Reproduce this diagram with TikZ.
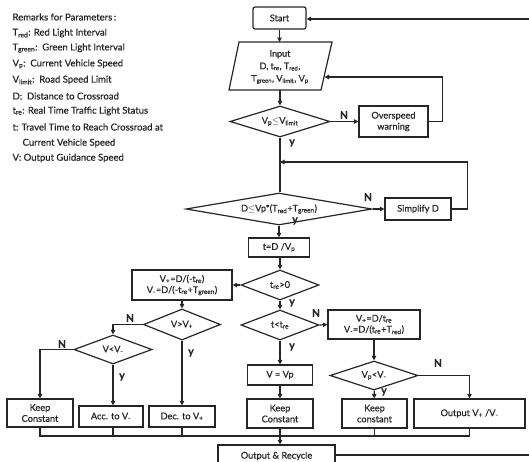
\documentclass[tikz,border=0pt]{standalone}
\usepackage{fontspec}
\setmainfont{Lato}[FakeBold=0.6]
\usetikzlibrary{shapes.geometric,arrows.meta}
\begin{document}
\begin{tikzpicture}[x=1pt,y=-1pt,
  line width=1.2pt,
  every node/.style={font=\fontsize{9.2}{11}\selectfont, text=black!85, inner sep=0pt},
  ln/.style={draw=black!85, line width=1.2pt},
  box/.style={ln, rectangle, align=center},
  dia/.style={ln, diamond, align=center},
  arr/.style={ln, -{Triangle[length=4.5pt,width=4.5pt]}},
  lab/.style={font=\fontsize{10.5}{10}\selectfont\bfseries},
  rem/.style={anchor=west, font=\fontsize{9.5}{10}\selectfont}]
\useasboundingbox (0,0) rectangle (529,461);
\clip (0,0) rectangle (529,461);
% remarks
\node[rem] (r0) at (12,17) {Remarks for Parameters\,:};
\node[rem] (r1) at (12,33) {T\textsubscript{red}: Red Light Interval};
\node[rem] (r2) at (12,48) {T\textsubscript{green}:\enspace Green Light Interval};
\node[rem] (r3) at (12,64) {V\textsubscript{p}:\enspace Current Vehicle Speed};
\node[rem] (r4) at (12,80) {V\textsubscript{limit}:\enspace Road Speed Limit};
\node[rem] (r5) at (12,96) {D:\enspace Distance to Crossroad};
\node[rem] (r6) at (12,111) {t\textsubscript{re}: Real Time Traffic Light Status};
\node[rem] (r7) at (12,127) {t: Travel Time to Reach Crossroad at};
\node[rem] (r8) at (22,143) {Current Vehicle Speed};
\node[rem] (r9) at (12,158) {V: Output Guidance Speed};
% top
\node[box, rounded corners=2pt, minimum width=53, minimum height=22] (start) at (279.5,18) {Start};
\coordinate (rin) at (529,19);
\coordinate (in1) at (239,42);
\coordinate (in2) at (332,42);
\coordinate (in3) at (321,90);
\coordinate (in4) at (229,90);
\draw[ln] (in1) -- (in2) -- (in3) -- (in4) -- cycle;
\node[align=center, font=\fontsize{9}{12.5}\selectfont] (input) at (280,67) {Input\\D, t\textsubscript{re}, T\textsubscript{red},\\T\textsubscript{green}, V\textsubscript{limit}, V\textsubscript{p}};
\coordinate (inT) at (279.5,42);
\coordinate (inB) at (280,90);
\coordinate (inR) at (324.5,77);
\node[dia, minimum width=100, minimum height=31, aspect=3.2] (d1) at (280,121.5) {V\textsubscript{p}$\leq$V\textsubscript{limit}};
\node[box, minimum width=69, minimum height=31] (over) at (393.5,121.5) {Overspeed\\warning};
\node[dia, minimum width=186, minimum height=32, aspect=5.8] (d2) at (279,209) {D$\leq$Vp*(T\textsubscript{red}+T\textsubscript{green})};
\node[box, minimum width=66, minimum height=22] (simp) at (418,209) {Simplify D};
\coordinate (ret) at (280,162);
\node[box, minimum width=61, minimum height=19] (tbox) at (279,247.5) {t=D /V\textsubscript{p}};
\node[dia, minimum width=78, minimum height=30, aspect=2.6] (d3) at (280,285) {t\textsubscript{re}>0};
\node[dia, minimum width=78, minimum height=30, aspect=2.6] (d4) at (280,325) {t<t\textsubscript{re}};
\node[box, minimum width=65, minimum height=20] (vbox) at (280,375) {V = Vp};
\node[box, minimum width=66, minimum height=29] (kc2) at (280,413.5) {Keep\\Constant};
% right branch
\node[box, minimum width=92, minimum height=29, align=center] (br) at (374,324.5) {V\textsubscript{+}=D/t\textsubscript{re}\\V\textsubscript{-}=D/(t\textsubscript{re}+T\textsubscript{red})};
\node[dia, minimum width=88, minimum height=29, aspect=3] (d5) at (374,375.5) {V\textsubscript{p}<V\textsubscript{-}};
\node[box, minimum width=65, minimum height=29] (kc3) at (374.5,413.5) {Keep\\constant};
\node[box, minimum width=111, minimum height=29] (oc) at (469.5,413.5) {Output V\textsubscript{+} /V\textsubscript{-}};
% left branch
\node[box, minimum width=100, minimum height=30, align=center] (bl) at (182,285) {V\textsubscript{+}=D/(-t\textsubscript{re})\\V\textsubscript{-}=D/(-t\textsubscript{re}+T\textsubscript{green})};
\node[dia, minimum width=77, minimum height=31, aspect=2.5] (d6) at (182,324.5) {V>V\textsubscript{+}};
\node[dia, minimum width=78, minimum height=29, aspect=2.7] (d7) at (113,349.5) {V<V\textsubscript{-}};
\node[box, minimum width=66, minimum height=28] (kc1) at (40,413) {Keep\\Constant};
\node[box, minimum width=64, minimum height=21] (acc) at (111,416.5) {Acc. to V\textsubscript{-}};
\node[box, minimum width=66, minimum height=21] (dec) at (182,416.5) {Dec. to V\textsubscript{+}};
% bottom
\node[box, minimum width=117, minimum height=22] (out) at (276.5,456) {Output \& Recycle};
\coordinate (rout) at (529,455);
\coordinate (bus) at (0,436);
% connectors
\draw[arr] (rin) -- (start.east |- rin);
\draw[arr] (start) -- (inT);
\draw[arr] (inB) -- (d1);
\draw[arr] (d1) -- (over);
\draw[arr] (over.east) -- ++(14,0) |- (inR);
\draw[ln] (d1.south) -- (d2.north -| d1.south);
\draw[arr] (d2.east) -- (simp.west);
\draw[arr] (simp.east) -- ++(16,0) |- (ret);
\draw[arr] (d2.south -| tbox.north) -- (tbox.north);
\draw[arr] (tbox.south -| d3.north) -- (d3.north);
\draw[arr] (d3.west) -- (bl.east);
\draw[arr] (d3) -- (d4);
\draw[arr] (d4.east) -- (br.west);
\draw[arr] (d4) -- (vbox);
\draw[arr] (vbox) -- (kc2);
\draw[arr] (br) -- (d5);
\draw[arr] (d5) -- (kc3);
\draw[arr] (d5.east) -| (oc.north);
\draw[arr] (bl) -- (d6);
\draw[arr] (d6.west) -| (d7.north);
\draw[arr] (d6.south) -- (dec.north -| d6.south);
\draw[arr] (d7.west) -| (kc1.north);
\draw[arr] (d7.south) -- (acc.north -| d7.south);
\draw[ln] (kc1.south) -- (kc1.south |- bus) -| (oc.south);
\draw[ln] (acc.south -| d7.south) -- (bus -| d7.south);
\draw[ln] (dec.south -| d6.south) -- (bus -| d6.south);
\draw[ln] (kc3.south) -- (bus -| kc3.south);
\draw[arr] (kc2.south) -- (out.north -| kc2.south);
\draw[ln] (out.east |- rout) -- (rout);
% labels
\node[lab] (l1) at (344,115) {N};
\node[lab] (l2) at (292,143) {y};
\node[lab] (l3) at (368,197) {N};
\node[lab] (l4) at (295,221) {y};
\node[lab] (l5) at (292,303) {y};
\node[lab] (l6) at (316,313) {N};
\node[lab] (l7) at (292,347) {y};
\node[lab] (l8) at (438,363) {N};
\node[lab] (l9) at (384,392) {y};
\node[lab] (l10) at (130,318) {N};
\node[lab] (l11) at (191,353) {y};
\node[lab] (l12) at (62,344) {N};
\node[lab] (l13) at (122,377) {y};
\end{tikzpicture}
\end{document}
